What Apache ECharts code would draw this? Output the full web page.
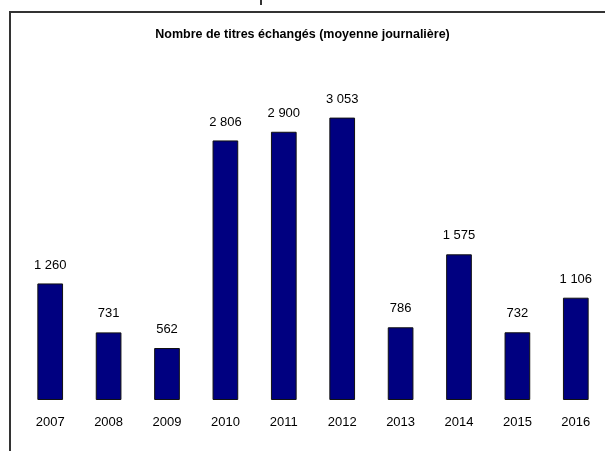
<!DOCTYPE html>
<html>
<head>
<meta charset="utf-8">
<script src="https://cdn.jsdelivr.net/npm/echarts@6/dist/echarts.min.js"></script>
<style>
  html, body { margin: 0; padding: 0; background: #fff; }
  #chart { width: 605px; height: 451px; }
</style>
</head>
<body>
<div id="chart"></div>
<script>
// data
const years = ['2007', '2008', '2009', '2010', '2011', '2012', '2013', '2014', '2015', '2016']
const titres = [1260, 731, 562, 2806, 2900, 3053, 786, 1575, 732, 1106]

const titleText = 'Nombre de titres échangés (moyenne journalière)'

// French thousands separator: "1 260"
const fmt = (v) => String(v).replace(/\B(?=(\d{3})+(?!\d))/g, ' ')

const chart = echarts.init(document.getElementById('chart'))

chart.setOption({
  animation: false,
  textStyle: { fontFamily: 'Liberation Sans, Arial, sans-serif' },
  title: {
    text: titleText,
    left: 'center',
    top: 28,
    padding: 0,
    textStyle: { fontSize: 12.5, fontWeight: 'bold', color: '#000' }
  },
  grid: { left: 21, right: 0, top: 30, bottom: 51 },
  xAxis: {
    type: 'category',
    data: years,
    axisLine: { show: false },
    axisTick: { show: false },
    axisLabel: { margin: 16, fontSize: 13, color: '#000' }
  },
  yAxis: {
    type: 'value',
    min: 0,
    max: 4000,
    show: false,
    splitLine: { show: false }
  },
  series: [
    {
      type: 'bar',
      data: titres,
      barWidth: '44%',
      itemStyle: { color: '#000080', borderColor: '#111', borderWidth: 1 },
      label: {
        show: true,
        position: 'top',
        distance: 12,
        fontSize: 13,
        color: '#000',
        formatter: (p) => fmt(p.value)
      }
    }
  ],
  graphic: [
    {
      type: 'polyline',
      shape: { points: [[10, 451], [10, 12], [605, 12]] },
      style: { stroke: '#333', lineWidth: 2, fill: null }
    },
    {
      type: 'line',
      shape: { x1: 261, y1: 0, x2: 261, y2: 5 },
      style: { stroke: '#333', lineWidth: 2 }
    }
  ]
})
</script>
</body>
</html>
